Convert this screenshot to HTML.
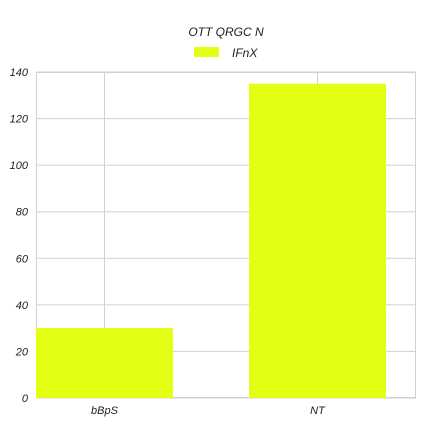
<!DOCTYPE html>
<html><head><meta charset="utf-8"><style>
html,body{margin:0;padding:0;background:#fff;}
svg text{font-family:"Liberation Sans",sans-serif;font-style:italic;fill:#222;}
</style></head><body>
<svg id="chart" width="424" height="424" viewBox="0 0 424 424">
<text x="226" y="36" text-anchor="middle" font-size="12">OTT QRGC N</text>
<rect x="194" y="47" width="25" height="10" fill="#e2ff14"></rect>
<text x="232" y="57" font-size="12">IFnX</text>
<g id="grid"></g><g id="bars"></g><g id="axes"></g>
</svg>
<script>
const categories = ["bBpS", "NT"];
const values = [30, 135];
const yTicks = [0, 20, 40, 60, 80, 100, 120, 140];
const L = 36, R = 416, T = 72, B = 398, yMax = 140;
const barW = 137, gap = 76;
const ns = "http://www.w3.org/2000/svg";
const y = v => B - (v / yMax) * (B - T);
const xc = i => L + barW / 2 + i * (barW + gap);
const grid = document.getElementById("grid"), bars = document.getElementById("bars"), axes = document.getElementById("axes");
function mk(tag, attrs, parent) { const e = document.createElementNS(ns, tag); for (const k in attrs) e.setAttribute(k, attrs[k]); parent.appendChild(e); return e; }
yTicks.forEach(t => {
  const g = mk("line", {x1: L, x2: R, y1: y(t), y2: y(t), stroke: "#d0d0d0", "stroke-width": 1}, grid);
  
  
  const tx = mk("text", {x: L - 8, y: y(t) + 4, "text-anchor": "end", "font-size": 11}, axes);
  tx.textContent = t;
  
  
});
categories.forEach((c, i) => {
  const g = mk("line", {x1: xc(i), x2: xc(i), y1: T, y2: B, stroke: "#d0d0d0", "stroke-width": 1}, grid);
  
  
  const r = mk("rect", {x: xc(i) - barW / 2, y: y(values[i]), width: barW, height: B - y(values[i]), fill: "#e2ff14"}, bars);
  
  
  const tx = mk("text", {x: xc(i), y: B + 16, "text-anchor": "middle", "font-size": 11}, axes);
  tx.textContent = c;
  
  
});
const fr = mk("rect", {x: L + 0.5, y: T + 0.5, width: R - L - 1, height: B - T - 1, fill: "none", stroke: "#d0d0d0"}, grid);


</script>
</body></html>
